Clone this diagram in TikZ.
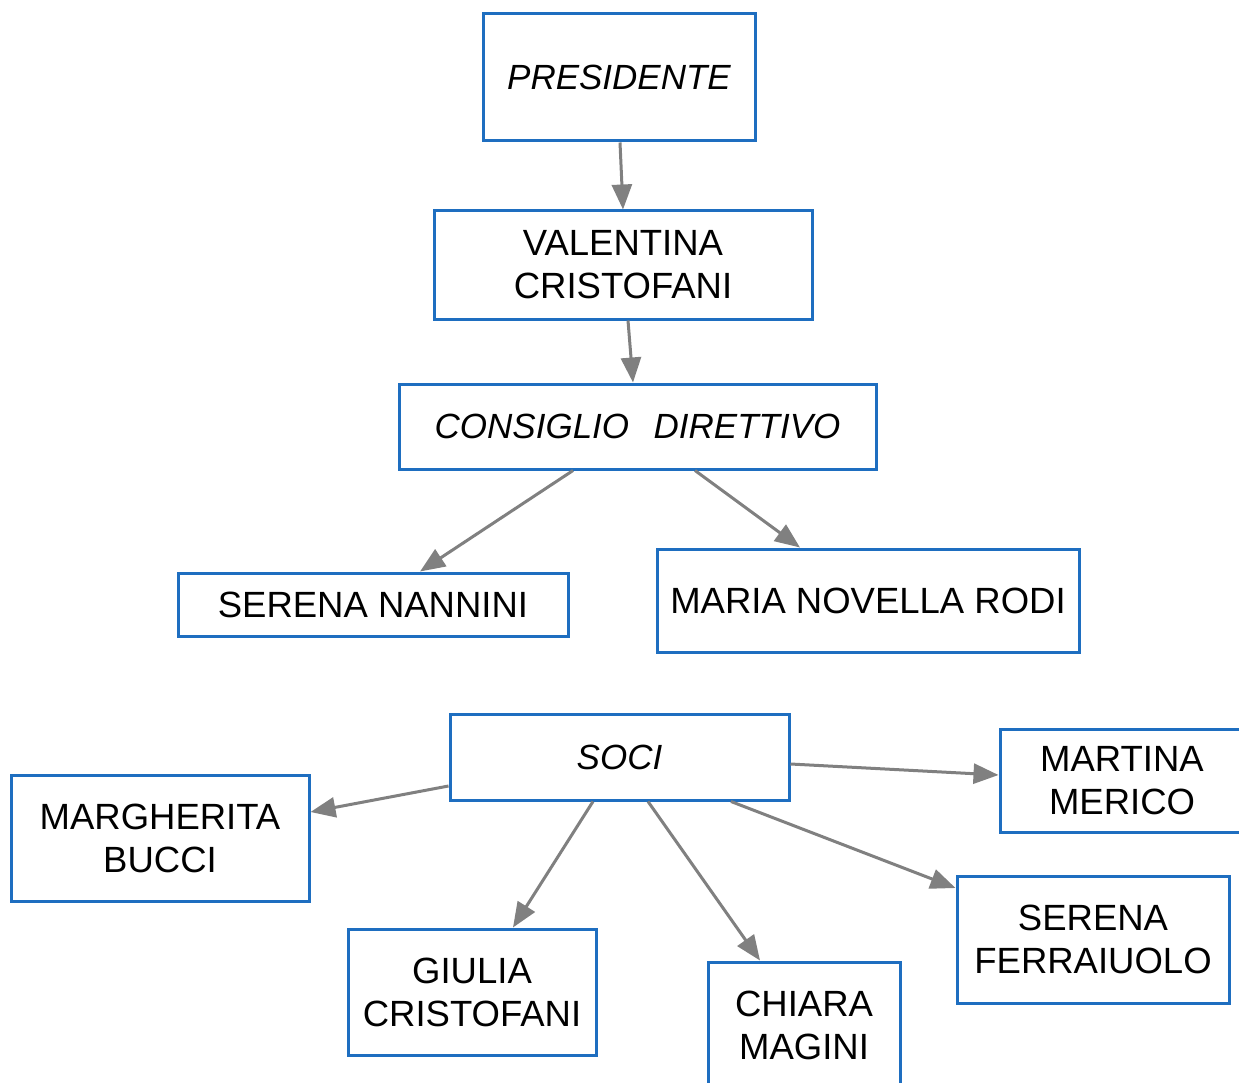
\documentclass[tikz,border=0pt]{standalone}
\usepackage{fontspec}
\setmainfont{Liberation Sans}
\usetikzlibrary{arrows.meta}
\definecolor{boxblue}{RGB}{30,110,192}
\definecolor{arrgray}{RGB}{128,128,128}
\begin{document}
\begin{tikzpicture}[x=1pt,y=-1pt,
  box/.style={draw=boxblue, line width=3pt, fill=white, align=center, inner sep=0pt,
    font=\fontsize{36.5}{43}\selectfont},
  ibox/.style={box, font=\fontsize{35}{43}\selectfont\itshape},
  arr/.style={draw=arrgray, line width=3pt, -{Triangle[length=25pt,width=20pt]}}]
\useasboundingbox (0,0) rectangle (1239,1083);
\clip (0,0) rectangle (1239,1083);
\fill[white] (0,0) rectangle (1239,1083);

\node[ibox, minimum width=272pt, minimum height=127pt] (pres) at (619,77.5) {PRESIDENTE};
\node[box, minimum width=378pt, minimum height=108pt] (val) at (623,265) {VALENTINA\\CRISTOFANI};
\node[ibox, minimum width=477pt, minimum height=85pt] (cons) at (637.5,426.5) {CONSIGLIO\hspace{0.7em}DIRETTIVO};
\node[box, minimum width=390pt, minimum height=63pt] (nan) at (373,604.5) {SERENA NANNINI};
\node[box, minimum width=422pt, minimum height=103pt] (rodi) at (868,600.5) {MARIA NOVELLA RODI};
\node[ibox, minimum width=339pt, minimum height=86pt] (soci) at (619.5,757) {SOCI};
\node[box, minimum width=244pt, minimum height=103pt] (mart) at (1122,780.5) {MARTINA\\MERICO};
\node[box, minimum width=298pt, minimum height=126pt] (marg) at (160,838) {MARGHERITA\\BUCCI};
\node[box, minimum width=248pt, minimum height=126pt] (giu) at (472,992) {GIULIA\\CRISTOFANI};
\node[box, minimum width=192pt, minimum height=126pt] (chi) at (804,1025) {CHIARA\\MAGINI};
\node[box, minimum width=272pt, minimum height=127pt] (ferr) at (1093,939.5) {SERENA\\FERRAIUOLO};

\draw[arr] ([xshift=1pt]pres.south) -- (val.north);
\draw[arr] ([xshift=5pt]val.south) -- ([xshift=-4.5pt]cons.north);
\draw[arr] ([xshift=-64.5pt]cons.south) -- ([xshift=47pt]nan.north);
\draw[arr] ([xshift=57.5pt]cons.south) -- ([xshift=-68pt]rodi.north);
\draw[arr] ([yshift=-29pt]soci.west) -- ([yshift=26pt]marg.east);
\draw[arr] ([xshift=-26.5pt]soci.south) -- ([xshift=41pt]giu.north);
\draw[arr] ([xshift=28.5pt]soci.south) -- ([xshift=-44pt]chi.north);
\draw[arr] ([xshift=111.5pt]soci.south) -- ([yshift=51.5pt]ferr.west);
\draw[arr] ([yshift=-7pt]soci.east) -- ([yshift=5.5pt]mart.west);
\end{tikzpicture}
\end{document}
